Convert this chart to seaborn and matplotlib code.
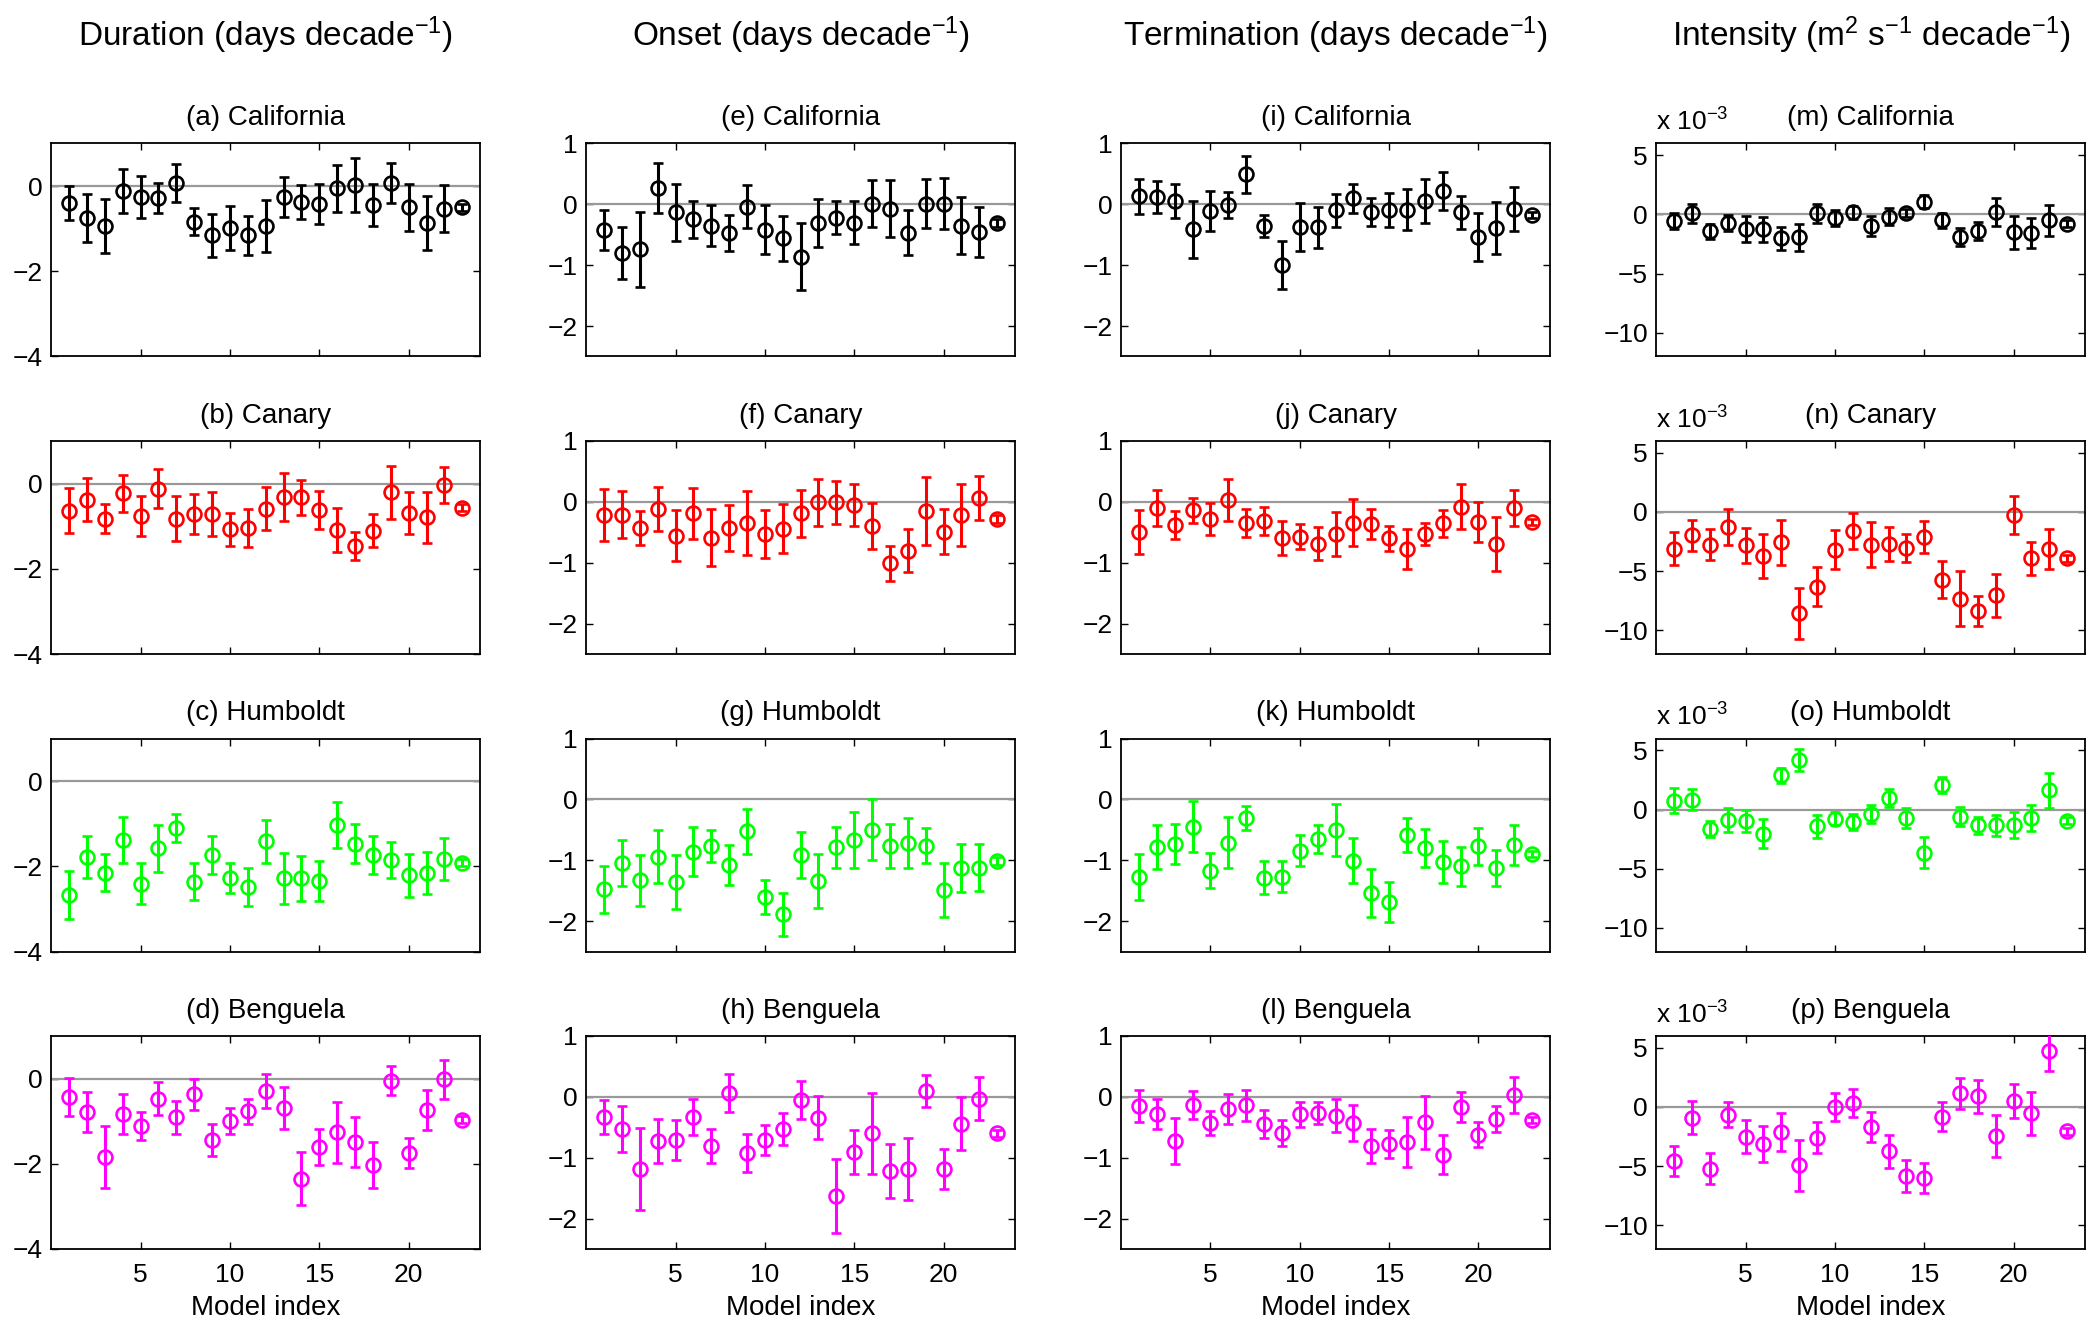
import numpy as np
import matplotlib
matplotlib.use("Agg")
import matplotlib.pyplot as plt
import seaborn as sns

# ------------------------------------------------------------
# data: trend per model (23 models) and its error bar half-width
# intensity values are in units of 1e-3 m^2 s^-1 decade^-1
# ------------------------------------------------------------
model_idx = np.arange(1, 24)
regions = ["California", "Canary", "Humboldt", "Benguela"]
region_colors = ["#000000", "#FF0000", "#00FF00", "#FF00FF"]

dur_cal = [-0.40, -0.75, -0.94, -0.12, -0.26, -0.28, 0.07, -0.84, -1.16, -0.99, -1.16, -0.94,
           -0.26, -0.38, -0.43, -0.05, 0.02, -0.45, 0.07, -0.50, -0.87, -0.53, -0.50]
dur_cal_err = [0.39, 0.56, 0.64, 0.51, 0.49, 0.35, 0.44, 0.32, 0.50, 0.51, 0.46, 0.62,
               0.46, 0.40, 0.47, 0.55, 0.64, 0.50, 0.46, 0.55, 0.64, 0.55, 0.08]
dur_can = [-0.64, -0.38, -0.82, -0.23, -0.76, -0.12, -0.82, -0.72, -0.72, -1.07, -1.04, -0.59,
           -0.32, -0.32, -0.62, -1.09, -1.47, -1.11, -0.20, -0.69, -0.79, -0.03, -0.57]
dur_can_err = [0.53, 0.50, 0.35, 0.43, 0.46, 0.46, 0.52, 0.47, 0.52, 0.39, 0.45, 0.50,
               0.56, 0.41, 0.44, 0.52, 0.33, 0.39, 0.62, 0.50, 0.60, 0.42, 0.08]
dur_hum = [-2.67, -1.78, -2.15, -1.39, -2.41, -1.58, -1.11, -2.36, -1.73, -2.28, -2.48, -1.41,
           -2.28, -2.28, -2.35, -1.03, -1.47, -1.73, -1.85, -2.21, -2.16, -1.83, -1.91]
dur_hum_err = [0.57, 0.50, 0.43, 0.54, 0.48, 0.56, 0.33, 0.43, 0.45, 0.35, 0.45, 0.50,
               0.60, 0.53, 0.47, 0.55, 0.46, 0.45, 0.43, 0.50, 0.49, 0.49, 0.08]
dur_ben = [-0.43, -0.79, -1.85, -0.84, -1.12, -0.47, -0.91, -0.37, -1.44, -0.99, -0.77, -0.30,
           -0.69, -2.35, -1.61, -1.26, -1.49, -2.03, -0.05, -1.75, -0.74, -0.02, -0.97]
dur_ben_err = [0.45, 0.47, 0.73, 0.47, 0.33, 0.38, 0.39, 0.37, 0.38, 0.30, 0.29, 0.40,
               0.50, 0.62, 0.43, 0.71, 0.59, 0.54, 0.34, 0.36, 0.47, 0.46, 0.08]

ons_cal = [-0.42, -0.80, -0.74, 0.26, -0.13, -0.25, -0.35, -0.47, -0.04, -0.42, -0.56, -0.86,
           -0.31, -0.22, -0.30, 0.01, -0.07, -0.47, 0.01, 0.01, -0.35, -0.46, -0.31]
ons_cal_err = [0.33, 0.42, 0.62, 0.41, 0.47, 0.30, 0.34, 0.30, 0.35, 0.40, 0.37, 0.55,
               0.39, 0.27, 0.35, 0.39, 0.47, 0.37, 0.40, 0.42, 0.47, 0.41, 0.06]
ons_can = [-0.22, -0.21, -0.43, -0.12, -0.56, -0.19, -0.59, -0.43, -0.35, -0.53, -0.44, -0.19,
           -0.01, -0.01, -0.05, -0.40, -1.01, -0.80, -0.15, -0.49, -0.21, 0.06, -0.28]
ons_can_err = [0.43, 0.39, 0.28, 0.36, 0.42, 0.42, 0.47, 0.38, 0.52, 0.40, 0.40, 0.39,
               0.39, 0.36, 0.35, 0.38, 0.29, 0.35, 0.56, 0.37, 0.51, 0.36, 0.06]
ons_hum = [-1.48, -1.05, -1.33, -0.94, -1.36, -0.86, -0.77, -1.08, -0.52, -1.61, -1.89, -0.91,
           -1.34, -0.79, -0.66, -0.50, -0.76, -0.72, -0.76, -1.49, -1.13, -1.12, -1.01]
ons_hum_err = [0.38, 0.38, 0.42, 0.44, 0.44, 0.40, 0.26, 0.33, 0.37, 0.28, 0.35, 0.38,
               0.44, 0.34, 0.46, 0.50, 0.36, 0.41, 0.29, 0.44, 0.39, 0.38, 0.06]
ons_ben = [-0.33, -0.53, -1.19, -0.73, -0.71, -0.33, -0.81, 0.06, -0.92, -0.71, -0.53, -0.05,
           -0.34, -1.63, -0.90, -0.60, -1.22, -1.19, 0.10, -1.19, -0.44, -0.03, -0.60]
ons_ben_err = [0.28, 0.38, 0.67, 0.36, 0.33, 0.30, 0.28, 0.31, 0.31, 0.24, 0.26, 0.31,
               0.36, 0.61, 0.36, 0.66, 0.45, 0.51, 0.26, 0.33, 0.43, 0.35, 0.06]

ter_cal = [0.13, 0.12, 0.06, -0.41, -0.11, -0.01, 0.49, -0.35, -1.00, -0.37, -0.38, -0.10,
           0.10, -0.13, -0.10, -0.09, 0.05, 0.22, -0.13, -0.54, -0.39, -0.08, -0.17]
ter_cal_err = [0.29, 0.26, 0.28, 0.47, 0.33, 0.21, 0.31, 0.18, 0.39, 0.39, 0.34, 0.27,
               0.24, 0.23, 0.28, 0.34, 0.36, 0.31, 0.27, 0.39, 0.42, 0.36, 0.05]
ter_can = [-0.50, -0.10, -0.38, -0.14, -0.28, 0.03, -0.34, -0.31, -0.60, -0.57, -0.69, -0.53,
           -0.34, -0.36, -0.60, -0.78, -0.53, -0.35, -0.08, -0.33, -0.69, -0.10, -0.33]
ter_can_err = [0.36, 0.30, 0.23, 0.20, 0.26, 0.34, 0.23, 0.23, 0.28, 0.21, 0.27, 0.36,
               0.38, 0.25, 0.21, 0.33, 0.18, 0.22, 0.37, 0.33, 0.44, 0.30, 0.05]
ter_hum = [-1.28, -0.78, -0.73, -0.45, -1.17, -0.71, -0.31, -1.29, -1.27, -0.84, -0.65, -0.50,
           -1.01, -1.54, -1.68, -0.58, -0.80, -1.03, -1.10, -0.77, -1.13, -0.75, -0.89]
ter_hum_err = [0.38, 0.36, 0.33, 0.42, 0.29, 0.42, 0.20, 0.27, 0.25, 0.25, 0.23, 0.43,
               0.37, 0.40, 0.33, 0.28, 0.31, 0.34, 0.32, 0.30, 0.30, 0.33, 0.05]
ter_ben = [-0.15, -0.28, -0.73, -0.13, -0.43, -0.20, -0.14, -0.44, -0.59, -0.29, -0.27, -0.31,
           -0.43, -0.81, -0.78, -0.74, -0.42, -0.95, -0.17, -0.62, -0.36, 0.03, -0.38]
ter_ben_err = [0.27, 0.25, 0.38, 0.23, 0.20, 0.25, 0.25, 0.23, 0.21, 0.20, 0.18, 0.27,
               0.29, 0.28, 0.23, 0.41, 0.43, 0.32, 0.25, 0.20, 0.21, 0.29, 0.05]

int_cal = [-0.54, 0.10, -1.43, -0.70, -1.20, -1.25, -2.00, -1.93, 0.10, -0.30, 0.18, -0.96,
           -0.18, 0.10, 1.07, -0.50, -1.93, -1.40, 0.20, -1.50, -1.57, -0.50, -0.80]
int_cal_err = [0.70, 0.80, 0.65, 0.68, 1.10, 1.05, 0.97, 1.15, 0.80, 0.66, 0.53, 0.86,
               0.70, 0.35, 0.55, 0.62, 0.74, 0.77, 1.20, 1.40, 1.25, 1.33, 0.30]
int_can = [-3.10, -1.96, -2.75, -1.25, -2.82, -3.75, -2.57, -8.57, -6.32, -3.18, -1.60, -2.75,
           -2.68, -3.04, -2.10, -5.71, -7.32, -8.36, -7.04, -0.25, -3.93, -3.10, -3.93]
int_can_err = [1.40, 1.32, 1.34, 1.50, 1.45, 1.86, 1.87, 2.14, 1.64, 1.62, 1.52, 1.90,
               1.43, 1.20, 1.37, 1.57, 2.30, 1.30, 1.80, 1.64, 1.40, 1.70, 0.30]
int_hum = [0.75, 0.82, -1.61, -0.86, -0.96, -2.04, 2.89, 4.21, -1.43, -0.79, -1.04, -0.36,
           1.00, -0.71, -3.64, 2.07, -0.61, -1.32, -1.32, -1.32, -0.71, 1.61, -0.96]
int_hum_err = [1.04, 0.90, 0.68, 1.00, 0.90, 1.22, 0.63, 0.93, 1.00, 0.54, 0.70, 0.77,
               0.75, 0.84, 1.29, 0.64, 0.80, 0.72, 0.90, 1.07, 1.10, 1.50, 0.30]
int_ben = [-4.57, -0.89, -5.21, -0.64, -2.50, -3.14, -2.14, -4.93, -2.61, 0.00, 0.32, -1.71,
           -3.75, -5.82, -6.00, -0.82, 1.14, 0.89, -2.43, 0.50, -0.54, 4.71, -2.07]
int_ben_err = [1.30, 1.40, 1.30, 1.07, 1.40, 1.55, 1.60, 2.14, 1.32, 1.16, 1.20, 1.29,
               1.37, 1.34, 1.29, 1.25, 1.29, 1.43, 1.79, 1.43, 1.79, 1.65, 0.30]

col_titles = ["Duration (days decade$^{-1}$)", "Onset (days decade$^{-1}$)",
              "Termination (days decade$^{-1}$)", "Intensity (m$^2$ s$^{-1}$ decade$^{-1}$)"]
col_ylims = [(-4, 1), (-2.5, 1), (-2.5, 1), (-12, 6)]
col_yticks = [[-4, -2, 0], [-2, -1, 0, 1], [-2, -1, 0, 1], [-10, -5, 0, 5]]
col_data = [
    [(dur_cal, dur_cal_err), (dur_can, dur_can_err), (dur_hum, dur_hum_err), (dur_ben, dur_ben_err)],
    [(ons_cal, ons_cal_err), (ons_can, ons_can_err), (ons_hum, ons_hum_err), (ons_ben, ons_ben_err)],
    [(ter_cal, ter_cal_err), (ter_can, ter_can_err), (ter_hum, ter_hum_err), (ter_ben, ter_ben_err)],
    [(int_cal, int_cal_err), (int_can, int_can_err), (int_hum, int_hum_err), (int_ben, int_ben_err)],
]

# ------------------------------------------------------------
# style
# ------------------------------------------------------------
sns.set_theme(style="ticks")
plt.rcParams["font.family"] = ["Liberation Sans", "DejaVu Sans"]
plt.rcParams.update({
    "xtick.direction": "in", "ytick.direction": "in",
    "xtick.top": True, "ytick.right": True,
    "xtick.major.size": 5, "ytick.major.size": 5,
    "xtick.major.width": 1.0, "ytick.major.width": 1.0,
    "axes.linewidth": 1.3, "axes.edgecolor": "black",
    "xtick.color": "black", "ytick.color": "black",
    "text.color": "black", "axes.labelcolor": "black",
    "xtick.labelsize": 19, "ytick.labelsize": 19,
    "mathtext.fontset": "custom", "mathtext.rm": "Liberation Sans",
    "mathtext.it": "Liberation Sans", "mathtext.default": "regular",
})

fig = plt.figure(figsize=(20.92, 13.29), dpi=100)
lefts = [0.0245, 0.2802, 0.5359, 0.7917]
bottoms = [0.7318, 0.5079, 0.2840, 0.0602]
W, H = 0.2050, 0.1603

for c in range(4):
    for r in range(4):
        ax = fig.add_axes([lefts[c], bottoms[r], W, H])
        vals, errs = col_data[c][r]
        ax.axhline(0, color="0.6", lw=1.6, zorder=1)
        ax.errorbar(model_idx, vals, yerr=errs, fmt="o", color=region_colors[r],
                    mfc="none", ms=10, mew=1.9, elinewidth=2.2, capsize=3.5,
                    capthick=2.2, zorder=3)
        ax.set_xlim(0, 24)
        ax.set_ylim(*col_ylims[c])
        ax.set_xticks([5, 10, 15, 20])
        ax.set_yticks(col_yticks[c])
        ax.tick_params(axis="y", pad=6)
        if r < 3:
            ax.set_xticklabels([])
        else:
            ax.tick_params(axis="x", pad=10)
            ax.set_xlabel("Model index", fontsize=20, labelpad=6)
        letter = "abcdefghijklmnop"[c * 4 + r]
        ax.set_title(f"({letter}) {regions[r]}", fontsize=20, pad=13)
        if c == 3:
            ax.text(0.0, 1.035, "x 10$^{-3}$", transform=ax.transAxes,
                    ha="left", va="bottom", fontsize=19)
        if r == 0:
            fig.text(lefts[c] + W / 2, 0.9737, col_titles[c], ha="center",
                     va="center", fontsize=24)

fig.savefig("out.png", dpi=100)
